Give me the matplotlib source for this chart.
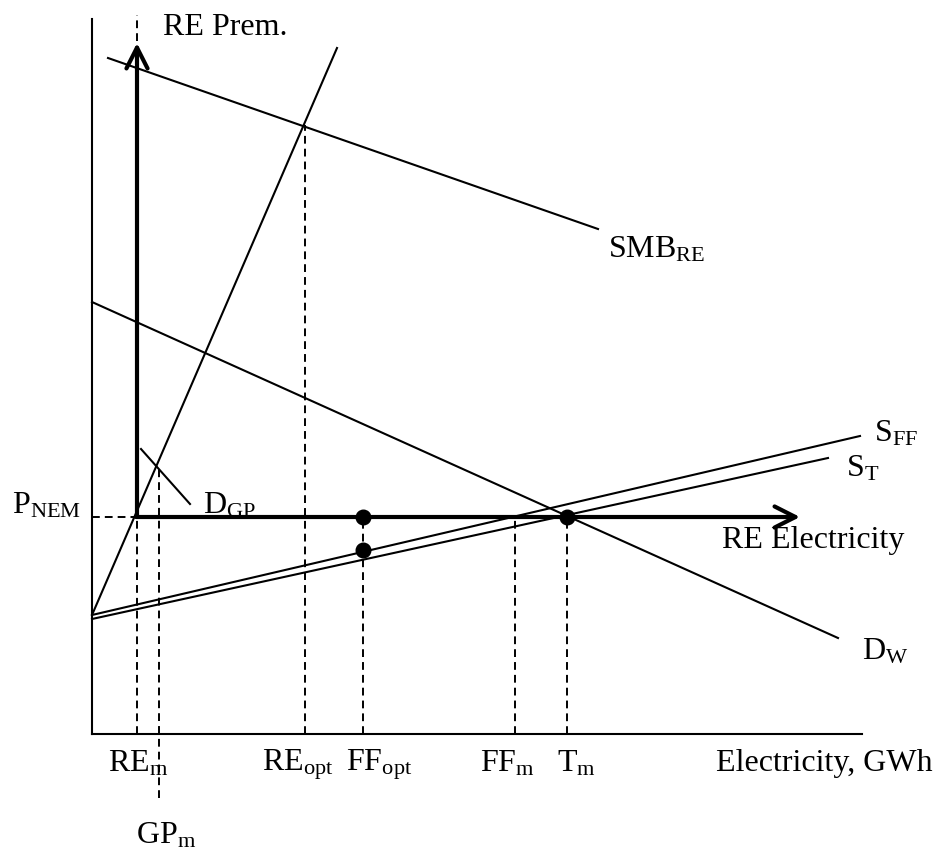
import matplotlib
matplotlib.use('Agg')
import matplotlib.pyplot as plt

plt.rcParams['font.family'] = ['Liberation Serif', 'DejaVu Serif']
plt.rcParams['mathtext.fontset'] = 'custom'
plt.rcParams['mathtext.rm'] = 'Liberation Serif'
plt.rcParams['mathtext.it'] = 'Liberation Serif:italic'

# quantity (Q) / price (P) in diagram units, origin at the axes corner
axis_q_max = 770
axis_p_max = 715

# curves: end points (Q, P)
smb_q, smb_p = [16, 506], [676, 505]          # SMB_RE
gp_q, gp_p = [0, 245], [119, 686]             # steep supply through (RE_m, P_NEM)
sff_q, sff_p = [0, 768], [119, 298]           # S_FF
st_q, st_p = [0, 736], [115, 276]             # S_T
dw_q, dw_p = [0, 746], [432, 96]              # D_W
dgp_q, dgp_p = [49, 98], [285, 230]           # D_GP

p_nem = 217
re_m, gp_m, re_opt, ff_opt, ff_m, t_m = 45, 67, 213, 271, 423, 475

# dashed drop lines: (Q, P top, P bottom)
drops_q = [re_m, gp_m, re_opt, ff_opt, ff_m, t_m]
drops_top = [719, 266, 609, p_nem, p_nem, p_nem]
drops_bot = [0, -64, 0, 0, 0, 0]

# equilibrium dots
dots_q = [ff_opt, ff_opt, t_m]
dots_p = [p_nem, 184, p_nem]

# arrows of the RE sub-diagram
re_arrow_top = 691
re_arrow_right = 708

fig = plt.figure(figsize=(9.36, 8.5), dpi=100)
ax = fig.add_axes([0, 0, 1, 1])
ax.set_xlim(-92, 844)
ax.set_ylim(-116, 734)
ax.axis('off')

lw = 1.5
ax.plot([0, 0], [0, axis_p_max], color='black', lw=lw)
ax.plot([0, axis_q_max], [0, 0], color='black', lw=lw)

for q, p in [(smb_q, smb_p), (gp_q, gp_p), (sff_q, sff_p), (st_q, st_p),
             (dw_q, dw_p), (dgp_q, dgp_p)]:
    ax.plot(q, p, color='black', lw=lw)

dash = dict(color='black', lw=1.4, ls=(0, (4, 2.6)))
for q, top, bot in zip(drops_q, drops_top, drops_bot):
    ax.plot([q, q], [bot, top], **dash)
ax.plot([0, re_m], [p_nem, p_nem], **dash)

arrow = dict(arrowstyle='->,head_length=0.75,head_width=0.38', lw=3,
             color='black', shrinkA=0, shrinkB=0, mutation_scale=20)
ax.annotate('', xy=(re_m, re_arrow_top), xytext=(re_m, p_nem), arrowprops=arrow)
ax.annotate('', xy=(re_arrow_right, p_nem), xytext=(re_m - 1, p_nem), arrowprops=arrow)

ax.plot(dots_q, dots_p, 'o', color='black', ms=10.5, zorder=5)

fs = 23
labels = [
    (71, 699, 'RE Prem.'),
    (516, 477, r'SMB$_\mathrm{RE}$'),
    (782, 293, r'S$_\mathrm{FF}$'),
    (754, 258, r'S$_\mathrm{T}$'),
    (630, 186, 'RE Electricity'),
    (770, 74, r'D$_\mathrm{W}$'),
    (-80, 221, r'P$_\mathrm{NEM}$'),
    (111, 221, r'D$_\mathrm{GP}$'),
    (16, -37, r'RE$_\mathrm{m}$'),
    (170, -37, r'RE$_\mathrm{opt}$'),
    (254, -37, r'FF$_\mathrm{opt}$'),
    (388, -37, r'FF$_\mathrm{m}$'),
    (465, -37, r'T$_\mathrm{m}$'),
    (624, -37, 'Electricity, GWh'),
    (44, -109, r'GP$_\mathrm{m}$'),
]
for x, y, s in labels:
    ax.text(x, y, s, fontsize=fs, ha='left', va='baseline')

fig.savefig('out.png', dpi=100)
